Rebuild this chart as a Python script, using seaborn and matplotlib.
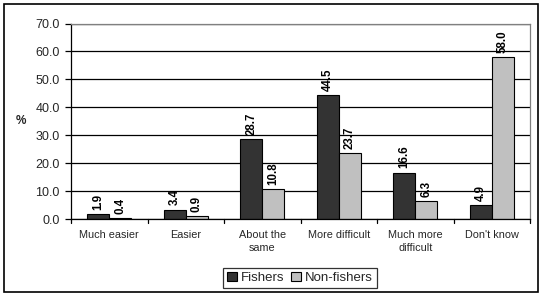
import matplotlib
matplotlib.use("Agg")
import matplotlib.pyplot as plt
import seaborn as sns
import pandas as pd
import numpy as np

categories = ["Much easier", "Easier", "About the\nsame", "More difficult", "Much more\ndifficult", "Don't know"]
fishers = [1.9, 3.4, 28.7, 44.5, 16.6, 4.9]
non_fishers = [0.4, 0.9, 10.8, 23.7, 6.3, 58.0]
series = ["Fishers", "Non-fishers"]
yticks = [0, 10, 20, 30, 40, 50, 60, 70]

df = pd.DataFrame({
    "category": categories * 2,
    "value": fishers + non_fishers,
    "series": [series[0]] * len(categories) + [series[1]] * len(categories),
})

sns.set_theme(style="white")
plt.rcParams["font.family"] = ["Liberation Sans", "DejaVu Sans"]

fig = plt.figure(figsize=(5.44, 2.98), dpi=100)
ax = fig.add_axes([71/544, 1 - 219/298, (530 - 71)/544, (219 - 23.5)/298])

sns.barplot(data=df, x="category", y="value", hue="series", order=categories,
            hue_order=series, palette=["#333333", "#C0C0C0"], width=0.58,
            edgecolor="black", linewidth=0.8, ax=ax, gap=0, saturation=1)

for cont in ax.containers:
    ax.bar_label(cont, fmt="%.1f", rotation=90, padding=3, fontsize=8.3,
                 fontweight="bold", color="black")

ax.set_ylim(0, 70)
ax.set_xlim(-0.5, len(categories) - 0.5)
ax.set_yticks(yticks)
ax.set_yticklabels([f"{v:.1f}" for v in yticks], fontsize=9)
ax.yaxis.grid(True, color="black", linewidth=0.9)
ax.set_axisbelow(True)

ax.set_xticks(np.arange(len(categories)))
ax.set_xticklabels(categories, fontsize=7.8, linespacing=1.35)
ax.tick_params(axis="x", length=0, pad=8)
# boundary ticks between categories
for b in np.arange(-0.5, len(categories), 1.0):
    ax.plot([b, b], [0, -1.5], color="black", linewidth=0.9, clip_on=False)
ax.tick_params(axis="y", length=4, width=0.9, color="black", left=True, pad=4)

ax.set_xlabel("")
ax.set_ylabel("%", rotation=0, fontsize=8.5, fontweight="bold", va="center")
ax.yaxis.set_label_coords(-0.11, 0.5)

for s in ["left", "bottom"]:
    ax.spines[s].set_color("black")
    ax.spines[s].set_linewidth(0.9)
for s in ["top", "right"]:
    ax.spines[s].set_visible(True)
    ax.spines[s].set_color("#808080")
    ax.spines[s].set_linewidth(0.9)

leg = ax.legend(loc="center", bbox_to_anchor=(300/544, 1 - 278/298),
                bbox_transform=fig.transFigure, ncol=2, frameon=True,
                fontsize=9.5, fancybox=False, handlelength=0.75, handleheight=0.75,
                handletextpad=0.3, columnspacing=0.5, borderpad=0.3,
                borderaxespad=0)
leg.get_frame().set_edgecolor("black")
leg.get_frame().set_linewidth(0.9)
for h in leg.legend_handles:
    h.set_edgecolor("black")
    h.set_linewidth(0.8)

# figure border
border = plt.Rectangle((4/544, 1 - 292/298), (538 - 4)/544, (292 - 4)/298,
                       transform=fig.transFigure, fill=False, edgecolor="black",
                       linewidth=1.2)
fig.add_artist(border)

fig.savefig("out.png", dpi=100, facecolor="white")
